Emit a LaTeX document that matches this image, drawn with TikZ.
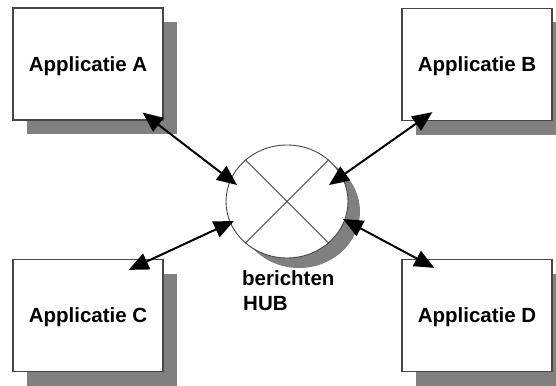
\documentclass[tikz,border=0pt]{standalone}
\usepackage{fontspec}
\setmainfont{Liberation Sans}
\usetikzlibrary{shapes.geometric,shadows,arrows.meta,calc}
\definecolor{shadowgray}{RGB}{128,128,128}
\definecolor{edgegray}{RGB}{70,70,70}
\begin{document}
\begin{tikzpicture}[x=1pt,y=-1pt,
  labelfont/.style={font=\fontsize{20.5}{24}\selectfont\bfseries},
  app/.style={draw=edgegray, line width=1.2pt, fill=white,
    minimum width=150pt, minimum height=112pt, inner sep=0pt,
    labelfont, text depth=0pt,
    drop shadow={shadow xshift=14pt, shadow yshift=-14pt, fill=shadowgray, opacity=1}},
  hubshape/.style={ellipse, draw=edgegray, line width=0.9pt, fill=white,
    minimum width=122pt, minimum height=113pt, inner sep=0pt,
    drop shadow={shadow xshift=12pt, shadow yshift=-10pt, fill=shadowgray, opacity=1}},
  cross/.style={draw=edgegray, line width=0.8pt},
  link/.style={line width=2pt,
    {Triangle[length=20pt,width=17pt]}-{Triangle[length=20pt,width=17pt]}},
  hubtext/.style={anchor=base west, inner sep=0pt, labelfont}
]
\fill[white] (0,0) rectangle (556,385);
\useasboundingbox (0,0) rectangle (556,385);

% the four applications
\node[app] (A) at (88,64)    {Applicatie A};
\node[app] (B) at (477,64.5) {Applicatie B};
\node[app] (C) at (88,315.5) {Applicatie C};
\node[app] (D) at (477,315.5){Applicatie D};

% the message hub
\node[hubshape] (hub) at (287,201.5) {};
\draw[cross] (hub.135) -- (hub.-45);
\draw[cross] (hub.45) -- (hub.-135);
\node[hubtext] (hubl1) at (242,285) {berichten};
\node[hubtext] (hubl2) at (243,310) {HUB};

% arrow end points
\coordinate (tA) at ($(A.south east)+(-21,-8)$);
\coordinate (tB) at ($(B.south west)+(31,-9)$);
\coordinate (tC) at ($(C.north east)+(-35,11)$);
\coordinate (tD) at ($(D.north west)+(33,9)$);
\coordinate (hA) at ($(hub.center)+(-50,-16.5)$);
\coordinate (hB) at ($(hub.center)+(42,-16.5)$);
\coordinate (hC) at ($(hub.center)+(-53,19.5)$);
\coordinate (hD) at ($(hub.center)+(56,17.5)$);

% links between applications and hub
\draw[link] (tA) -- (hA);
\draw[link] (tB) -- (hB);
\draw[link] (tC) -- (hC);
\draw[link] (tD) -- (hD);
\end{tikzpicture}
\end{document}
